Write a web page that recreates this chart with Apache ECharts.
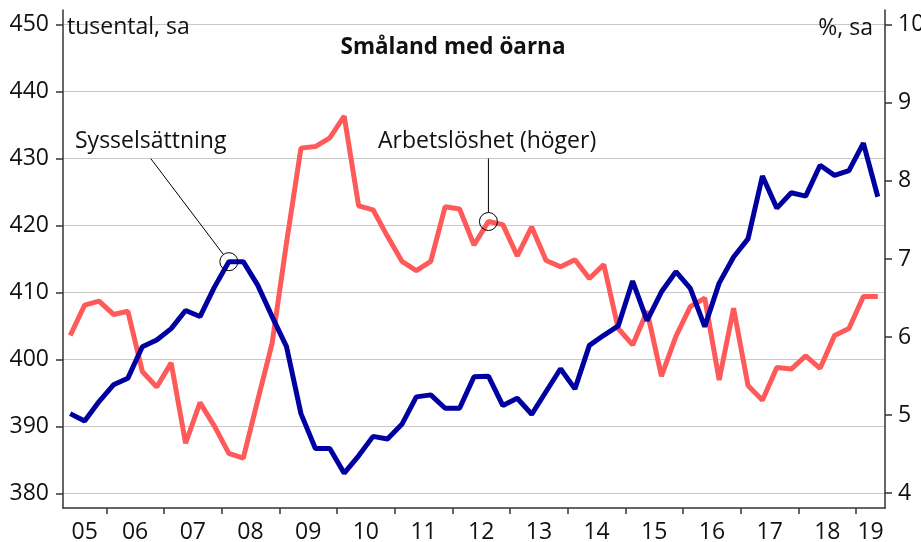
<!DOCTYPE html>
<html>
<head>
<meta charset="utf-8">
<title>Småland med öarna</title>
<script src="https://cdn.jsdelivr.net/npm/echarts@6/dist/echarts.min.js"></script>
</head>
<body style="margin:0;padding:0">
<div id="chart" style="width:921px;height:542px"></div>
<script>
// kvartalsdata, 2005 kv2 - 2019 kv2
var years = ['05', '06', '07', '08', '09', '10', '11', '12', '13', '14', '15', '16', '17', '18', '19'];
var firstYear = 2005, firstQuarter = 2;

// Sysselsättning, tusental (vänster axel)
var employment = [
  391.9, 390.8, 393.7, 396.2, 397.2, 401.9, 402.9, 404.6, 407.3, 406.4,
  410.8, 414.6, 414.6, 411.1, 406.4, 401.9, 391.9, 386.7, 386.7, 383.0,
  385.6, 388.5, 388.1, 390.3, 394.4, 394.7, 392.7, 392.7, 397.4, 397.5,
  393.1, 394.2, 391.8, 395.2, 398.6, 395.6, 402.1, 403.6, 405.0, 411.7,
  405.8, 410.1, 413.1, 410.6, 404.9, 411.4, 415.3, 418.0, 427.4, 422.6,
  424.9, 424.4, 429.0, 427.5, 428.2, 432.3, 424.3
];
// Arbetslöshet, % (höger axel)
var unemployment = [
  6.02, 6.41, 6.46, 6.29, 6.33, 5.56, 5.36, 5.67, 4.64, 5.16,
  4.86, 4.51, 4.45, 5.19, 5.92, 7.21, 8.42, 8.44, 8.55, 8.83,
  7.68, 7.63, 7.29, 6.97, 6.85, 6.97, 7.67, 7.64, 7.18, 7.48,
  7.44, 7.04, 7.41, 6.98, 6.90, 6.99, 6.75, 6.93, 6.11, 5.90,
  6.33, 5.50, 6.01, 6.39, 6.50, 5.45, 6.37, 5.38, 5.19, 5.61,
  5.59, 5.76, 5.60, 6.02, 6.11, 6.52, 6.52
];
var markEmp = 11, markUnemp = 29;

var font = 'Open Sans';
var textColor = '#111';

var quarters = employment.map(function (v, i) {
  var q = firstQuarter - 1 + i;
  return (firstYear + Math.floor(q / 4)) + 'K' + (q % 4 + 1);
});

// hjälpaxel i åttondels år: årsstreck vid årsskiften, etiketter mitt i synligt år
var start = firstYear + (firstQuarter - 1) / 4;
var end = start + quarters.length / 4;
var steps = Math.round((end - start) * 8);
var eighths = [], labelIdx = {}, tickIdx = {};
for (var i = 0; i <= steps; i++) eighths.push('e' + i);
years.forEach(function (y, n) {
  var y0 = Math.max(firstYear + n, start), y1 = Math.min(firstYear + n + 1, end);
  var mid = Math.round(((y0 + y1) / 2 - start) * 8);
  eighths[mid] = y;
  labelIdx[mid] = true;
  if (firstYear + n > start) tickIdx[Math.round((firstYear + n - start) * 8)] = true;
});

var axisColor = '#333';
var chart = echarts.init(document.getElementById('chart'));

var option = {
  backgroundColor: '#fff',
  animation: false,
  grid: { left: 63, right: 36, top: 10, bottom: 34, outerBoundsMode: 'none' },
  xAxis: [{
    type: 'category',
    data: quarters,
    boundaryGap: true,
    position: 'bottom',
    axisLine: { show: true, lineStyle: { color: axisColor, width: 1.5 } },
    axisTick: { show: false },
    axisLabel: { show: false },
    splitLine: { show: false }
  }, {
    type: 'category',
    data: eighths,
    boundaryGap: false,
    position: 'bottom',
    min: 0,
    max: steps,
    axisLine: { show: false },
    axisTick: {
      show: true, length: 6,
      interval: function (idx) { return !!tickIdx[idx]; },
      lineStyle: { color: axisColor, width: 1.5 }
    },
    axisLabel: {
      show: true, margin: 13,
      interval: function (idx) { return !!labelIdx[idx]; },
      fontFamily: font, fontSize: 23, color: textColor
    },
    splitLine: { show: false }
  }],
  yAxis: [{
    type: 'value',
    min: 377.8,
    max: 452.2,
    splitNumber: 7,
    axisLine: { show: true, lineStyle: { color: axisColor, width: 1.5 } },
    axisTick: { show: true, length: 7, lineStyle: { color: axisColor, width: 1.5 } },
    axisLabel: { showMinLabel: false, showMaxLabel: false, margin: 14, fontFamily: font, fontSize: 23, color: textColor },
    splitLine: { show: true, showMinLine: false, showMaxLine: false, lineStyle: { color: '#c8c8c8', width: 1 } }
  }, {
    type: 'value',
    position: 'right',
    min: 3.811,
    max: 10.189,
    splitNumber: 6,
    axisLine: { show: true, lineStyle: { color: axisColor, width: 1.5 } },
    axisTick: { show: true, length: 7, lineStyle: { color: axisColor, width: 1.5 } },
    axisLabel: { showMinLabel: false, showMaxLabel: false, margin: 13, fontFamily: font, fontSize: 23, color: textColor },
    splitLine: { show: false }
  }],
  series: [{
    name: 'Arbetslöshet (höger)',
    type: 'line',
    xAxisIndex: 0,
    yAxisIndex: 1,
    data: unemployment,
    symbol: 'none',
    lineStyle: { color: '#ff5a5a', width: 5 },
    itemStyle: { color: '#ff5a5a' }
  }, {
    name: 'Sysselsättning',
    type: 'line',
    xAxisIndex: 0,
    yAxisIndex: 0,
    data: employment,
    symbol: 'none',
    lineStyle: { color: '#0000a0', width: 5 },
    itemStyle: { color: '#0000a0' }
  }]
};
chart.setOption(option);

// annoteringar
var pEmp = chart.convertToPixel({ seriesIndex: 1 }, [markEmp, employment[markEmp]]);
var pUn = chart.convertToPixel({ seriesIndex: 0 }, [markUnemp, unemployment[markUnemp]]);
var r = 9;

function leader(p, dx, dy) {
  var len = Math.sqrt(dx * dx + dy * dy);
  return {
    type: 'line', silent: true, z: 100,
    shape: { x1: p[0] + dx, y1: p[1] + dy, x2: p[0] + dx * r / len, y2: p[1] + dy * r / len },
    style: { stroke: '#000', lineWidth: 1 }
  };
}
function ring(p) {
  return {
    type: 'circle', silent: true, z: 100,
    shape: { cx: p[0], cy: p[1], r: r },
    style: { fill: 'none', stroke: '#000', lineWidth: 1 }
  };
}
function label(txt, x, y, align, weight, size) {
  return {
    type: 'text', silent: true, z: 100, x: x, y: y,
    style: {
      text: txt, fill: textColor, align: align || 'left', verticalAlign: 'middle',
      fontFamily: font, fontSize: size || 23, fontWeight: weight || 'normal'
    }
  };
}

chart.setOption({
  graphic: [
    label('Småland med öarna', 453, 48, 'center', 'bold', 22.5),
    label('tusental, sa', 67, 27),
    label('%, sa', 873, 28, 'right'),
    label('Sysselsättning', 75, 141),
    label('Arbetslöshet (höger)', 378, 141),
    leader(pEmp, -78, -103),
    ring(pEmp),
    leader(pUn, 0, -63),
    ring(pUn)
  ]
});
</script>
</body>
</html>
